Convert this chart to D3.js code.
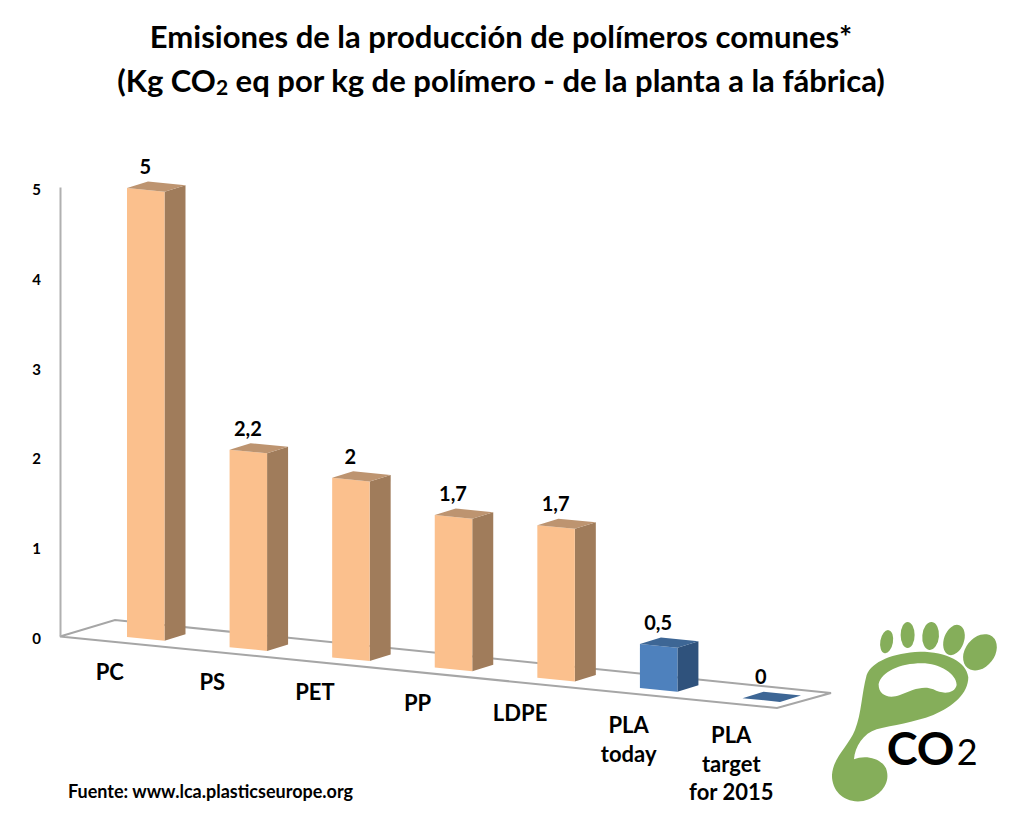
<!DOCTYPE html>
<html>
<head>
<meta charset="utf-8">
<script src="https://cdn.jsdelivr.net/npm/d3@7"></script>
<style>
  html, body { margin: 0; background: #fff; }
  svg { display: block; }
  text { font-family: Lato, "Open Sans", sans-serif; font-weight: 700; fill: #000; }
</style>
</head>
<body>
<div id="chart"></div>
<script>
// Data
const categories = ['PC', 'PS', 'PET', 'PP', 'LDPE', 'PLA today', 'PLA target for 2015'];
const categoryLines = [['PC'], ['PS'], ['PET'], ['PP'], ['LDPE'], ['PLA', 'today'], ['PLA', 'target', 'for 2015']];
const values = [5, 2.2, 2, 1.7, 1.7, 0.5, 0];
// the drawn heights do not follow the labels exactly, so keep both
const drawnValues = [5, 2.2, 2, 1.7, 1.7, 0.49, 0];
const groups = ['base', 'base', 'base', 'base', 'base', 'pla', 'pla'];
const yTicks = [0, 1, 2, 3, 4, 5];

const COLORS = {
  base: { front: '#fbc08d', side: '#a07c5b', top: '#bd9470' },
  pla: { front: '#4e81bd', side: '#2f527c', top: '#3d6695' },
};

const W = 1024, H = 840;
const DEPTH_X = 21, DEPTH_Y = -6.5;

const svg = d3.select('#chart').append('svg').attr('width', W).attr('height', H).attr('viewBox', `0 0 ${W} ${H}`);

// Title
const title = svg.append('g').attr('text-anchor', 'middle');
title.append('text').attr('x', 501).attr('y', 48).attr('font-size', 31)
  .text('Emisiones de la producción de polímeros comunes*');
const t2 = title.append('text').attr('x', 501).attr('y', 92).attr('font-size', 31);
t2.append('tspan').text('(Kg CO');
t2.append('tspan').attr('font-size', 21).attr('dy', 3).text('2');
t2.append('tspan').attr('dy', -3).text(' eq por kg de polímero - de la planta a la fábrica)');

// Scales: the floor runs downhill from left to right
const x = d3.scaleBand().domain(categories).range([127, 780]).paddingInner(0.6345).paddingOuter(0);
const base = d3.scaleLinear().domain([0, categories.length - 1]).range([637, 698.2]);
const height = d3.scaleLinear().domain([0, 5]).range([0, 449]);
const y = d3.scaleLinear().domain([0, 5]).range([636, 187]);

// Floor and back wall edge
const floor = [[60, 636.5], [115, 620], [831, 693], [777, 708]];
svg.append('path')
  .attr('d', d3.line()(floor) + 'Z')
  .attr('fill', '#fff').attr('stroke', '#a6a6a6').attr('stroke-width', 2);

// Y axis
const yAxis = d3.axisLeft(y).tickValues(yTicks).tickSize(0).tickPadding(19).tickFormat(d3.format('d'));
const yG = svg.append('g').attr('transform', 'translate(60,0)').call(yAxis);
yG.select('.domain').attr('stroke', '#b0b0b0').attr('stroke-width', 2);
yG.selectAll('text').attr('font-size', 15).attr('dy', '0.5em').style('font-family', 'Lato').style('font-weight', 700);

// Bars
const bars = svg.append('g').selectAll('g').data(categories).join('g');
const bw = x.bandwidth();
const FRONT_SLOPE = 3.7;

bars.each(function (c, i) {
  const g = d3.select(this);
  const col = COLORS[groups[i]];
  const x0 = x(c), x1 = x0 + bw;
  const b = base(i), h = height(drawnValues[i]);
  const line = d3.line();
  // side face
  g.append('path').attr('fill', col.side).attr('d', line([
    [x1, b + FRONT_SLOPE], [x1 + DEPTH_X, b + FRONT_SLOPE + DEPTH_Y],
    [x1 + DEPTH_X, b + FRONT_SLOPE + DEPTH_Y - h], [x1, b + FRONT_SLOPE - h]]) + 'Z');
  // front face
  g.append('path').attr('fill', col.front).attr('d', line([
    [x0, b], [x1, b + FRONT_SLOPE], [x1, b + FRONT_SLOPE - h], [x0, b - h]]) + 'Z');
  // top face
  g.append('path').attr('fill', col.top).attr('d', line([
    [x0, b - h], [x1, b + FRONT_SLOPE - h],
    [x1 + DEPTH_X, b + FRONT_SLOPE + DEPTH_Y - h], [x0 + DEPTH_X, b + DEPTH_Y - h]]) + 'Z');
});

// Data labels
svg.append('g').attr('text-anchor', 'middle').selectAll('text').data(categories).join('text')
  .attr('x', c => x(c) + bw / 2 - 1 + DEPTH_X / 2 - 10)
  .attr('y', (c, i) => base(i) - height(drawnValues[i]) - 14)
  .attr('font-size', 20)
  .text((c, i) => String(values[i]).replace('.', ','));

// Category labels
svg.append('g').attr('text-anchor', 'middle').selectAll('text').data(categories).join('text')
  .attr('font-size', 22)
  .attr('x', (c, i) => x(c) + bw / 2 - (i > 4 ? 30 : 36))
  .attr('y', (c, i) => base(i) + (i > 4 ? 45 : 43))
  .each(function (c, i) {
    const cx = d3.select(this).attr('x');
    d3.select(this).selectAll('tspan').data(categoryLines[i]).join('tspan')
      .attr('x', cx).attr('dy', (d, j) => (j ? 28.5 : 0)).text(d => d);
  });

// Source
svg.append('text').attr('x', 68).attr('y', 798).attr('font-size', 18).text('Fuente: www.lca.plasticseurope.org');

// CO2 footprint logo, outline traced at 3x and scaled down
const logo = svg.append('g').attr('transform', 'translate(600,600) scale(0.3333)');
const green = '#85ae5a';
logo.append('path').attr('fill', green).attr('fill-rule', 'evenodd').attr('d',
  'M696,525 C700,470 745,440 765,390 C785,340 785,280 800,225 C815,185 880,158 960,155 ' +
  'C1040,155 1100,185 1105,232 C1105,280 1060,320 1000,345 C940,368 880,375 830,388 ' +
  'C790,400 765,440 762,478 C790,465 840,470 858,505 C875,550 840,590 790,603 C735,612 695,575 696,525 Z ' +
  'M836,252 C845,215 900,190 965,190 C1020,190 1070,222 1070,255 C1065,280 1030,285 1000,268 ' +
  'C970,255 935,270 900,285 C865,298 835,285 836,252 Z');
const toes = [[860, 125, 19, 35, 10], [923, 105, 21, 39, 0], [992, 108, 25, 42, 5], [1062, 120, 30, 47, 20], [1140, 157, 44, 60, 38]];
logo.selectAll('ellipse').data(toes).join('ellipse')
  .attr('fill', green)
  .attr('rx', d => d[2]).attr('ry', d => d[3])
  .attr('transform', d => `translate(${d[0]},${d[1]}) rotate(${d[4]})`);
logo.append('text').attr('x', 860).attr('y', 495).attr('font-size', 140).text('CO');
logo.append('text').attr('x', 1070).attr('y', 495).attr('font-size', 108).style('font-weight', 400).text('2');
</script>
</body>
</html>
